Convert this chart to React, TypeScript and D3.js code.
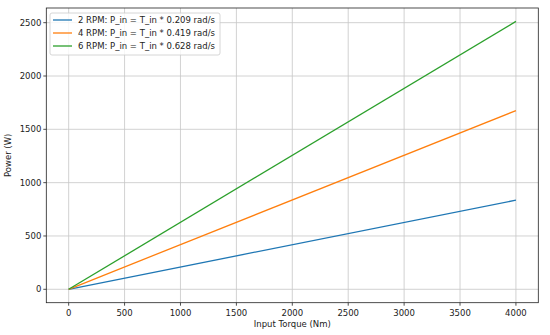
import React, { useEffect, useRef } from 'react';
import * as d3 from 'd3';

// torque samples (Nm) and power (W)
const torque = [0, 4000];
const power2rpm = [0, 836];
const power4rpm = [0, 1676];
const power6rpm = [0, 2512];

const labels = [
  '2 RPM: P_in = T_in * 0.209 rad/s',
  '4 RPM: P_in = T_in * 0.419 rad/s',
  '6 RPM: P_in = T_in * 0.628 rad/s',
];
const colors = ['#1f77b4', '#ff7f0e', '#2ca02c'];

const xTicks = [0, 500, 1000, 1500, 2000, 2500, 3000, 3500, 4000];
const yTicks = [0, 500, 1000, 1500, 2000, 2500];

const W = 550;
const H = 335;
const FONT = '"DejaVu Sans", sans-serif';

export default function App() {
  const ref = useRef<SVGSVGElement>(null);

  useEffect(() => {
    if (!ref.current) return;
    const svg = d3.select(ref.current);
    svg.selectAll('*').remove();

    const left = 46.3, right = 538.3, top = 8, bottom = 302.7;

    const x = d3.scaleLinear().domain([-200, 4200]).range([left, right]);
    const y = d3.scaleLinear().domain([-125.6, 2637.6]).range([bottom, top]);

    svg.append('rect').attr('width', W).attr('height', H).attr('fill', '#fff');

    // grid
    const grid = svg.append('g').attr('stroke', '#b0b0b0').attr('stroke-width', 0.8).attr('opacity', 0.7);
    xTicks.forEach(t => {
      grid.append('line').attr('x1', x(t)).attr('x2', x(t)).attr('y1', top).attr('y2', bottom);
    });
    yTicks.forEach(t => {
      grid.append('line').attr('x1', left).attr('x2', right).attr('y1', y(t)).attr('y2', y(t));
    });

    // lines
    const series = [power2rpm, power4rpm, power6rpm];
    const line = d3.line<number>()
      .x((_, i) => x(torque[i]))
      .y(d => y(d));
    series.forEach((s, i) => {
      svg.append('path')
        .datum(s)
        .attr('d', line)
        .attr('fill', 'none')
        .attr('stroke', colors[i])
        .attr('stroke-width', 1.3);
    });

    // frame
    svg.append('rect')
      .attr('x', left).attr('y', top)
      .attr('width', right - left).attr('height', bottom - top)
      .attr('fill', 'none').attr('stroke', '#222').attr('stroke-width', 0.8);

    // ticks
    const tk = svg.append('g').attr('font-family', FONT).attr('font-size', 8.5).attr('fill', '#222');
    xTicks.forEach(t => {
      tk.append('line').attr('x1', x(t)).attr('x2', x(t)).attr('y1', bottom).attr('y2', bottom + 3)
        .attr('stroke', '#222').attr('stroke-width', 0.8);
      tk.append('text').attr('x', x(t)).attr('y', bottom + 13)
        .attr('text-anchor', 'middle').text(t);
    });
    yTicks.forEach(t => {
      tk.append('line').attr('x1', left - 3).attr('x2', left).attr('y1', y(t)).attr('y2', y(t))
        .attr('stroke', '#222').attr('stroke-width', 0.8);
      tk.append('text').attr('x', left - 5).attr('y', y(t) + 3)
        .attr('text-anchor', 'end').text(t);
    });

    // axis labels
    svg.append('text')
      .attr('x', (left + right) / 2).attr('y', 327)
      .attr('text-anchor', 'middle')
      .attr('font-family', FONT).attr('font-size', 8.5).attr('fill', '#222')
      .text('Input Torque (Nm)');
    svg.append('text')
      .attr('transform', `translate(11,${(top + bottom) / 2}) rotate(-90)`)
      .attr('text-anchor', 'middle')
      .attr('font-family', FONT).attr('font-size', 8.5).attr('fill', '#222')
      .text('Power (W)');

    // legend
    const lg = svg.append('g').attr('transform', 'translate(50,13)');
    lg.append('rect')
      .attr('width', 170).attr('height', 42).attr('rx', 2)
      .attr('fill', '#fff').attr('fill-opacity', 0.8)
      .attr('stroke', '#ccc').attr('stroke-width', 0.8);
    labels.forEach((l, i) => {
      const yy = 7 + i * 13;
      lg.append('line').attr('x1', 3).attr('x2', 22).attr('y1', yy).attr('y2', yy)
        .attr('stroke', colors[i]).attr('stroke-width', 1.3);
      lg.append('text').attr('x', 28).attr('y', yy + 3)
        .attr('font-family', FONT).attr('font-size', 8.5).attr('fill', '#222')
        .text(l);
    });
  }, []);

  return <svg ref={ref} width={W} height={H} style={{ position: 'absolute', left: 0, top: 0 }} />;
}
